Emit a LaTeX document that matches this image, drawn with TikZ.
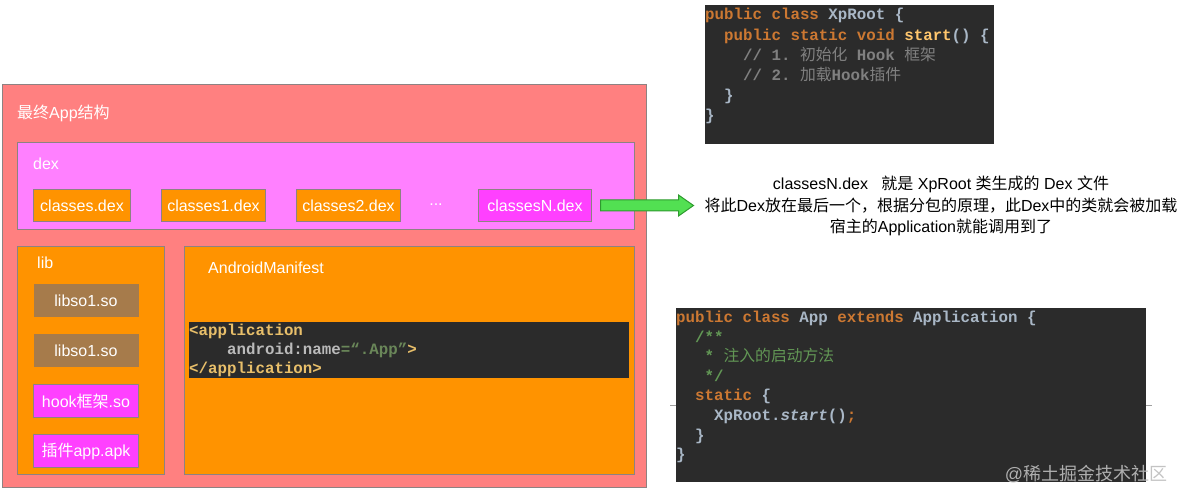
\documentclass[tikz,border=0pt]{standalone}
\usepackage{fontspec}
\setmainfont{Liberation Sans}
\newfontfamily\cjk{Noto Sans CJK SC}
\newfontfamily\codefont{Liberation Mono}
\usetikzlibrary{positioning,calc,shapes.arrows}

\definecolor{appsalmon}{HTML}{FF8080}
\definecolor{dexpink}{HTML}{FF80FF}
\definecolor{boxorange}{HTML}{FF9300}
\definecolor{sobrown}{HTML}{A67B4B}
\definecolor{hookpink}{HTML}{FF40FF}
\definecolor{edgegray}{HTML}{8E8282}
\definecolor{codebg}{HTML}{2B2B2B}
\definecolor{codeplain}{HTML}{A9B7C6}
\definecolor{codekw}{HTML}{CC7832}
\definecolor{codefn}{HTML}{FFC66D}
\definecolor{codecm}{HTML}{808080}
\definecolor{codedoc}{HTML}{629755}
\definecolor{xmltag}{HTML}{E8BF6A}
\definecolor{xmlattr}{HTML}{BABABA}
\definecolor{xmlstr}{HTML}{6A8759}
\definecolor{arrowgreen}{HTML}{52E052}
\definecolor{arrowedge}{HTML}{2E9A2E}
\definecolor{rulegray}{HTML}{A0A0A0}
\definecolor{markgray}{HTML}{BDBDBD}

\newcommand{\zh}[1]{{\cjk\mdseries #1}}
\newcommand{\ind}{\hphantom{mm}}
\newcommand{\jkw}[1]{\textcolor{codekw}{#1}}
\newcommand{\jfn}[1]{\textcolor{codefn}{#1}}
\newcommand{\jcm}[1]{\textcolor{codecm}{#1}}
\newcommand{\jdoc}[1]{\textcolor{codedoc}{#1}}
\newcommand{\lblfont}{\fontsize{16}{19}\selectfont}

\begin{document}
\begin{tikzpicture}
	[   x=1pt,y=-1pt,
	    cbox/.style={draw=edgegray,line width=1pt,fill=#1,inner sep=0pt,anchor=north west},
	    fbox/.style={cbox=#1,text=white,font=\lblfont},
	    sobox/.style={fbox=sobrown,draw=none,minimum width=105pt,minimum height=33pt},
	    hookbox/.style={fbox=hookpink,minimum width=105pt,minimum height=33pt},
	    title text/.style={text=white,font=\lblfont,anchor=west,inner sep=0pt},
	    code/.style={fill=codebg,inner sep=0pt,anchor=north west,align=flush left,text=codeplain,
	                 font={\codefont\bfseries\fontsize{15.8}{#1}\selectfont\frenchspacing}},
	]
	\tikzset{big arrow/.style={single arrow,draw=arrowedge,fill=arrowgreen,line width=1pt,
	         inner xsep=0pt,inner ysep=5pt,minimum height=93pt,single arrow head extend=5pt,
	         single arrow tip angle=70,single arrow head indent=0pt}}
	\useasboundingbox (0,0) rectangle (1184,502);
	
	\node[cbox=appsalmon,minimum width=644pt,minimum height=403pt] (app) at (2,84) {};
	\node[title text] (app-title) at (17,113) {\zh{最终}App\zh{结构}};
	
	\node[cbox=dexpink,minimum width=617pt,minimum height=87pt] (dex) at (17,142) {};
	\node[title text] (dex-title) at (33,164) {dex};
	\foreach \n/\x/\w/\t in {0/33/97/classes.dex,1/161/104/classes1.dex,2/296/104/classes2.dex}
	{
		\node[fbox=boxorange,minimum width=\w*1pt,minimum height=32pt] (dex-\n) at (\x,189) {\t};
	}
	\node[text=white,font=\lblfont] (dex-dots) at (436,205) {...};
	\node[fbox=hookpink,minimum width=113pt,minimum height=32pt] (dex-N) at (478,189) {classesN.dex};
	
	\node[cbox=boxorange,minimum width=147pt,minimum height=228pt] (lib) at (17,246) {};
	\node[title text] (lib-title) at (37,263) {lib};
	\foreach \n/\y/\s/\t in {1/284/sobox/libso1.so,2/334/sobox/libso1.so,3/384/hookbox/hook\zh{框架}.so,4/434/hookbox/\zh{插件}app.apk}
	{
		\node[\s] (lib-\n) at (33,\y) {\t};
	}
	
	\node[cbox=boxorange,minimum width=450pt,minimum height=228pt] (manifest) at (184,246) {};
	\node[title text] (manifest-title) at (208,268) {AndroidManifest};
	\node[code=19pt,text width=440pt,minimum height=56pt] (manifest-code) at (189,322)
	{\textcolor{xmltag}{<application}\\
	 \ind\ind\textcolor{xmlattr}{android:name}\textcolor{xmlstr}{=“.App”}\textcolor{xmltag}{>}\\
	 \textcolor{xmltag}{</application>}};
	
	\node[code=20.2pt,text width=289pt,minimum height=139pt] (xproot) at (705,5)
	{\jkw{public class} XpRoot \{\\
	 \ind\jkw{public static void} \jfn{start}() \{\\
	 \ind\ind\jcm{// 1. \zh{初始化} Hook \zh{框架}}\\
	 \ind\ind\jcm{// 2. \zh{加载}Hook\zh{插件}}\\
	 \ind\}\\
	 \}\\
	 \mbox{}};
	
	\node[big arrow,right=8pt of dex-N,anchor=tail] (dex-arrow) {};
	\node[align=center,font=\fontsize{16}{21.5}\selectfont] (note) at (941,206)
	{classesN.dex\ \ \ \zh{就是} XpRoot \zh{类生成的} Dex \zh{文件}\\
	 \zh{将此}Dex\zh{放在最后一个，根据分包的原理，此}Dex\zh{中的类就会被加载}\\
	 \zh{宿主的}Application\zh{就能调用到了}};
	
	\draw[rulegray,line width=1pt] (670,406) -- (1152,406);
	\node[code=19.6pt,text width=470pt,minimum height=174pt] (appcode) at (676,308)
	{\jkw{public class} App \jkw{extends} Application \{\\
	 \ind\jdoc{/**}\\
	 \ind~\jdoc{* \zh{注入的启动方法}}\\
	 \ind~\jdoc{*/}\\
	 \ind\jkw{static} \{\\
	 \ind\ind XpRoot.\textit{start}()\jkw{;}\\
	 \ind\}\\
	 \}\\
	 \mbox{}};
	\node[text=markgray,opacity=0.9,font=\fontsize{18}{20}\selectfont] (mark) at (1086,474) {@\zh{稀土掘金技术社区}};
\end{tikzpicture}
\end{document}
